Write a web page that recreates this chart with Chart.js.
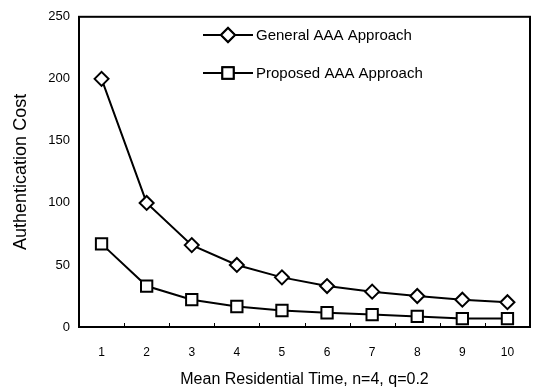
<!DOCTYPE html>
<html>
<head>
<meta charset="utf-8">
<script src="https://cdn.jsdelivr.net/npm/chart.js@4/dist/chart.umd.min.js"></script>
<style>
html,body{margin:0;padding:0;background:#fff;}
#wrap{width:540px;height:389px;position:relative;}
</style>
</head>
<body>
<div id="wrap"><canvas id="c" width="540" height="389"></canvas></div>
<script>
const categories = ['1','2','3','4','5','6','7','8','9','10'];
const generalValues = [200, 100, 66, 50, 40, 33, 28.5, 25, 22, 20];
const proposedValues = [67, 33, 22, 16.5, 13.3, 11.5, 10, 8.5, 6.8, 6.8];
const seriesNames = ['General AAA Approach', 'Proposed AAA Approach'];
const yTicks = [0, 50, 100, 150, 200, 250];
const xTitle = 'Mean Residential Time, n=4, q=0.2';
const yTitle = 'Authentication Cost';

const FONT = "'Liberation Sans', Arial, sans-serif";

const extrasPlugin = {
  id: 'extras',
  afterDraw(chart) {
    const ctx = chart.ctx;
    const xs = chart.scales.x;
    const a = chart.chartArea;
    ctx.save();
    ctx.strokeStyle = '#000';
    ctx.lineWidth = 2;
    ctx.strokeRect(a.left, a.top, a.right - a.left, a.bottom - a.top);
    ctx.lineWidth = 1;
    const step = xs.getPixelForValue(1) - xs.getPixelForValue(0);
    for (let i = 0; i < categories.length - 1; i++) {
      const px = Math.round(xs.getPixelForValue(i) + step / 2) + 0.5;
      ctx.beginPath();
      ctx.moveTo(px, a.bottom);
      ctx.lineTo(px, a.bottom - 4);
      ctx.stroke();
    }
    const rows = [35, 73];
    chart.data.datasets.forEach((ds, i) => {
      const y = rows[i];
      const x0 = 203, x1 = 253, xm = 228;
      ctx.strokeStyle = '#000';
      ctx.lineWidth = 2;
      ctx.beginPath();
      ctx.moveTo(x0, y); ctx.lineTo(x1, y); ctx.stroke();
      Chart.helpers.drawPoint(ctx, {
        pointStyle: ds.pointStyle, radius: ds.pointRadius, borderWidth: ds.pointBorderWidth
      }, xm, y);
      ctx.fillStyle = '#fff';
      ctx.fill();
      ctx.stroke();
      ctx.fillStyle = '#000';
      ctx.font = '15px ' + FONT;
      ctx.textBaseline = 'middle';
      ctx.textAlign = 'left';
      ctx.fillText(ds.label, 256, y + 1);
    });
    ctx.restore();
  }
};

new Chart(document.getElementById('c'), {
  type: 'line',
  data: {
    labels: categories,
    datasets: [
      {
        label: seriesNames[0],
        data: generalValues,
        borderColor: '#000',
        borderWidth: 2,
        pointStyle: 'rectRot',
        pointRadius: 7,
        pointBorderWidth: 2,
        pointBackgroundColor: '#fff',
        pointBorderColor: '#000',
        tension: 0,
        fill: false
      },
      {
        label: seriesNames[1],
        data: proposedValues,
        borderColor: '#000',
        borderWidth: 2,
        pointStyle: 'rect',
        pointRadius: 8,
        pointBorderWidth: 2,
        pointBackgroundColor: '#fff',
        pointBorderColor: '#000',
        tension: 0,
        fill: false
      }
    ]
  },
  options: {
    responsive: false,
    animation: false,
    devicePixelRatio: 1,
    layout: {padding: {top: 12, right: 5, left: 0, bottom: 0}},
    plugins: {legend: {display: false}, tooltip: {enabled: false}},
    scales: {
      x: {
        offset: true,
        grid: {display: false, drawTicks: false},
        border: {display: true, color: '#000', width: 2},
        ticks: {color: '#000', font: {family: FONT, size: 12}, padding: 18, maxRotation: 0},
        title: {display: true, text: xTitle, color: '#000', font: {family: FONT, size: 16}, padding: {top: 6, bottom: 0}},
        afterFit(scale) { scale.height = 62; }
      },
      y: {
        min: 0, max: 250,
        afterBuildTicks(scale) { scale.ticks = yTicks.map(v => ({value: v})); },
        grid: {display: false, drawTicks: false},
        border: {display: true, color: '#000', width: 2},
        ticks: {color: '#000', font: {family: FONT, size: 13}, padding: 9},
        title: {display: true, text: yTitle, color: '#000', font: {family: FONT, size: 18}, padding: {top: 10, bottom: 0}},
        afterFit(scale) { scale.width = 79; }
      }
    }
  },
  plugins: [extrasPlugin]
});
</script>
</body>
</html>
